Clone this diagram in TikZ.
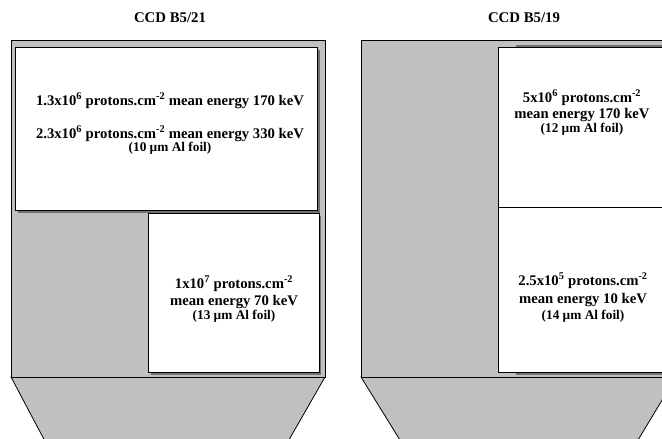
\documentclass[tikz,border=0pt]{standalone}
\usepackage{fontspec}
\setmainfont{Liberation Serif}
\definecolor{panelgray}{HTML}{C0C0C0}
\definecolor{shadowgray}{HTML}{707070}
\begin{document}
\begin{tikzpicture}[x=1pt,y=-1pt,
  panel/.style={fill=panelgray, draw=black, line width=0.8pt},
  card/.style={fill=white, draw=black, line width=0.8pt, inner sep=0pt},
  shade/.style={fill=shadowgray, draw=none},
  lbl/.style={font=\bfseries\fontsize{14.7}{16}\selectfont, anchor=base, inner sep=0pt},
  foil/.style={font=\bfseries\fontsize{13.3}{14}\selectfont, anchor=base, inner sep=0pt},
  ttl/.style={font=\bfseries\fontsize{14.8}{16}\selectfont, anchor=base, inner sep=0pt}]
\useasboundingbox (0,0) rectangle (662,439);
\fill[white] (0,0) rectangle (662,439);
\clip (0,0) rectangle (662,439);

% ---------- left panel: CCD B5/21 ----------
\node[ttl] (ttlA) at (170,22) {CCD B5/21};
\draw[panel] (11,377) -- (325,377) -- (286,445) -- (47,445) -- cycle;
\node[panel, minimum width=314pt, minimum height=337pt, anchor=north west, inner sep=0pt] (frameA) at (11,40) {};
\fill[shade] (18,50) rectangle (320,213);
\node[card, minimum width=302pt, minimum height=163pt, anchor=north west] (boxA1) at (15,47) {};
\fill[shade] (151,216) rectangle (321,374.5);
\node[card, minimum width=171pt, minimum height=159pt, anchor=north west] (boxA2) at (148,213) {};

\node[lbl] (a1) at (170,105) {1.3x10\textsuperscript{6} protons.cm\textsuperscript{-2} mean energy 170 keV};
\node[lbl] (a2) at (170,138) {2.3x10\textsuperscript{6} protons.cm\textsuperscript{-2} mean energy 330 keV};
\node[foil] (a3) at (170,151.5) {(10 µm Al foil)};

\node[lbl] (b1) at (234,288) {1x10\textsuperscript{7} protons.cm\textsuperscript{-2}};
\node[lbl] (b2) at (234,305) {mean energy 70 keV};
\node[foil] (b3) at (234,319.5) {(13 µm Al foil)};

% ---------- right panel: CCD B5/19 ----------
\node[ttl] (ttlB) at (524,22) {CCD B5/19};
\draw[panel] (361,377) -- (676,377) -- (635,445) -- (403,445) -- cycle;
\node[panel, minimum width=315pt, minimum height=337pt, anchor=north west, inner sep=0pt] (frameB) at (361,40) {};
\fill[shade] (516,45) rectangle (672,210);
\fill[shade] (516,210) rectangle (672,374.5);
\node[card, minimum width=170pt, minimum height=160pt, anchor=north west] (boxB1) at (498,47) {};
\node[card, minimum width=170pt, minimum height=165pt, anchor=north west] (boxB2) at (498,207) {};

\node[lbl] (c1) at (582,102) {5x10\textsuperscript{6} protons.cm\textsuperscript{-2}};
\node[lbl] (c2) at (582,118) {mean energy 170 keV};
\node[foil] (c3) at (582,132.5) {(12 µm Al foil)};

\node[lbl] (d1) at (583,285) {2.5x10\textsuperscript{5} protons.cm\textsuperscript{-2}};
\node[lbl] (d2) at (583,303) {mean energy 10 keV};
\node[foil] (d3) at (583,319.5) {(14 µm Al foil)};
\end{tikzpicture}
\end{document}
